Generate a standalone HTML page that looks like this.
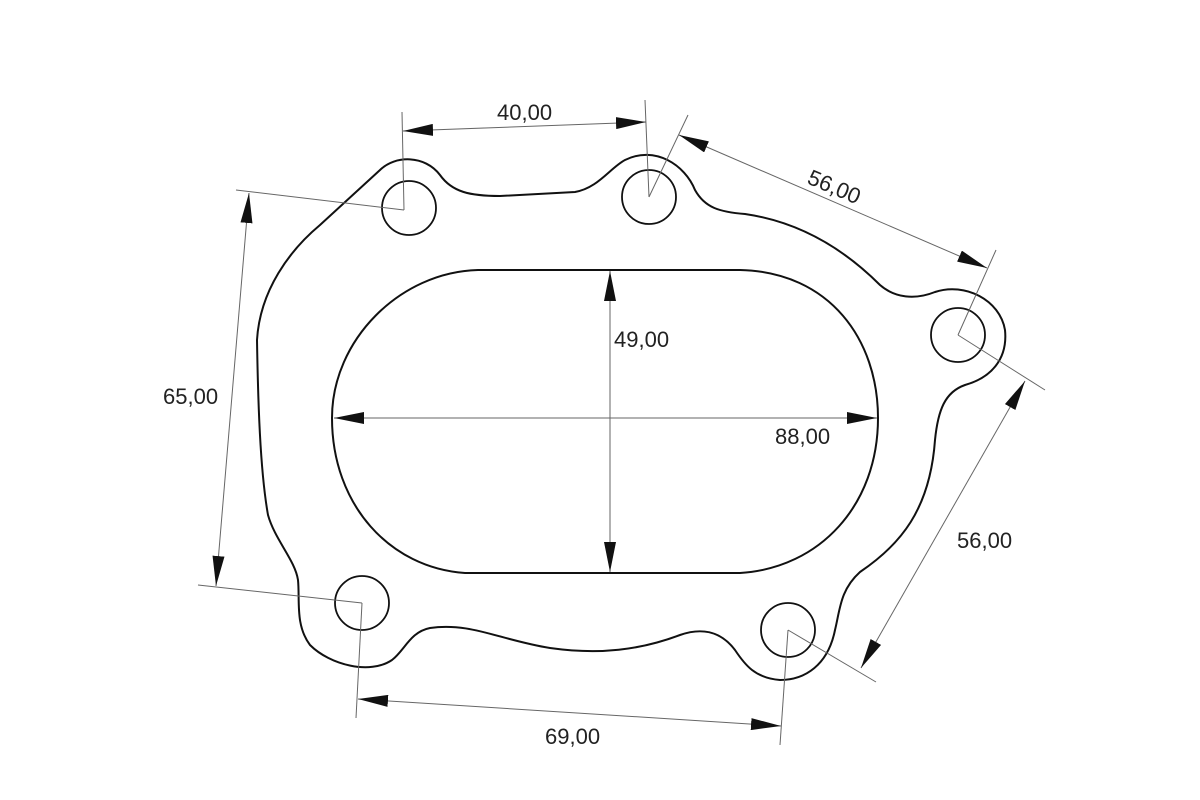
<!DOCTYPE html>
<html><head><meta charset="utf-8"><style>
html,body{margin:0;padding:0;background:#fff;}
svg{display:block;}
text{font-family:"Liberation Sans",sans-serif;font-size:22px;fill:#222;}
</style></head><body>
<svg width="1200" height="800" viewBox="0 0 1200 800" xmlns="http://www.w3.org/2000/svg">
<defs>
<marker id="a" viewBox="0 0 30 12" refX="30" refY="6" markerWidth="30" markerHeight="12" markerUnits="userSpaceOnUse" orient="auto-start-reverse">
<path d="M0,0 L30,6 L0,12 Z" fill="#111"/></marker>
</defs>
<path d="M380,170 C395,155 425,155 440,175 C452,192 470,196 500,196 L575,192 C598,188 610,168 625,160 C655,145 685,165 695,190 C705,208 720,212 745,214 C800,222 845,250 880,285 C895,298 915,300 935,292 C965,282 1000,300 1005,330 C1008,360 990,378 965,385 C945,392 938,410 935,440 C930,510 900,545 860,572 C840,590 840,610 835,630 C828,665 805,680 780,680 C755,678 745,665 735,650 C720,630 700,628 680,635 C640,650 600,655 550,648 C500,640 470,622 430,628 C410,632 405,650 392,660 C370,675 330,665 310,645 C295,625 300,600 298,580 C295,560 275,540 268,515 C260,470 258,400 257,340 C260,290 290,250 320,225 Z" fill="none" stroke="#111" stroke-width="2"/>
<path d="M478,270 L740,270 C830,272 878,340 878,418 C878,505 820,568 740,573 L465,573 C390,568 332,505 332,418 C332,340 400,272 478,270 Z" fill="none" stroke="#111" stroke-width="2"/>
<g fill="none" stroke="#111" stroke-width="1.8">
<circle cx="409" cy="208" r="27"/>
<circle cx="649" cy="197" r="27"/>
<circle cx="958" cy="335" r="27"/>
<circle cx="362" cy="603" r="27"/>
<circle cx="788" cy="630" r="27"/>
</g>
<g stroke="#666" stroke-width="1" fill="none">
<line x1="402" y1="112" x2="404" y2="210"/>
<line x1="645" y1="100" x2="649" y2="197"/>
<line x1="649" y1="197" x2="688" y2="115"/>
<line x1="958" y1="335" x2="996" y2="250"/>
<line x1="236" y1="190" x2="404" y2="210"/>
<line x1="198" y1="585" x2="362" y2="603"/>
<line x1="958" y1="335" x2="1045" y2="390"/>
<line x1="788" y1="630" x2="876" y2="682"/>
<line x1="362" y1="603" x2="356" y2="718"/>
<line x1="788" y1="630" x2="780" y2="745"/>
</g>
<g stroke="#666" stroke-width="1" fill="none" marker-start="url(#a)" marker-end="url(#a)">
<line x1="403" y1="131" x2="646" y2="122"/>
<line x1="679" y1="135" x2="987" y2="268"/>
<line x1="249" y1="193" x2="216" y2="586"/>
<line x1="610" y1="271" x2="610" y2="572"/>
<line x1="334" y1="418" x2="877" y2="418"/>
<line x1="1025" y1="381" x2="861" y2="668"/>
<line x1="358" y1="699" x2="781" y2="726"/>
</g>
<text x="497" y="120">40,00</text>
<text x="0" y="0" transform="translate(806,183) rotate(23)">56,00</text>
<text x="163" y="404">65,00</text>
<text x="614" y="347">49,00</text>
<text x="775" y="444">88,00</text>
<text x="957" y="548">56,00</text>
<text x="545" y="744">69,00</text>
</svg>
</body></html>
